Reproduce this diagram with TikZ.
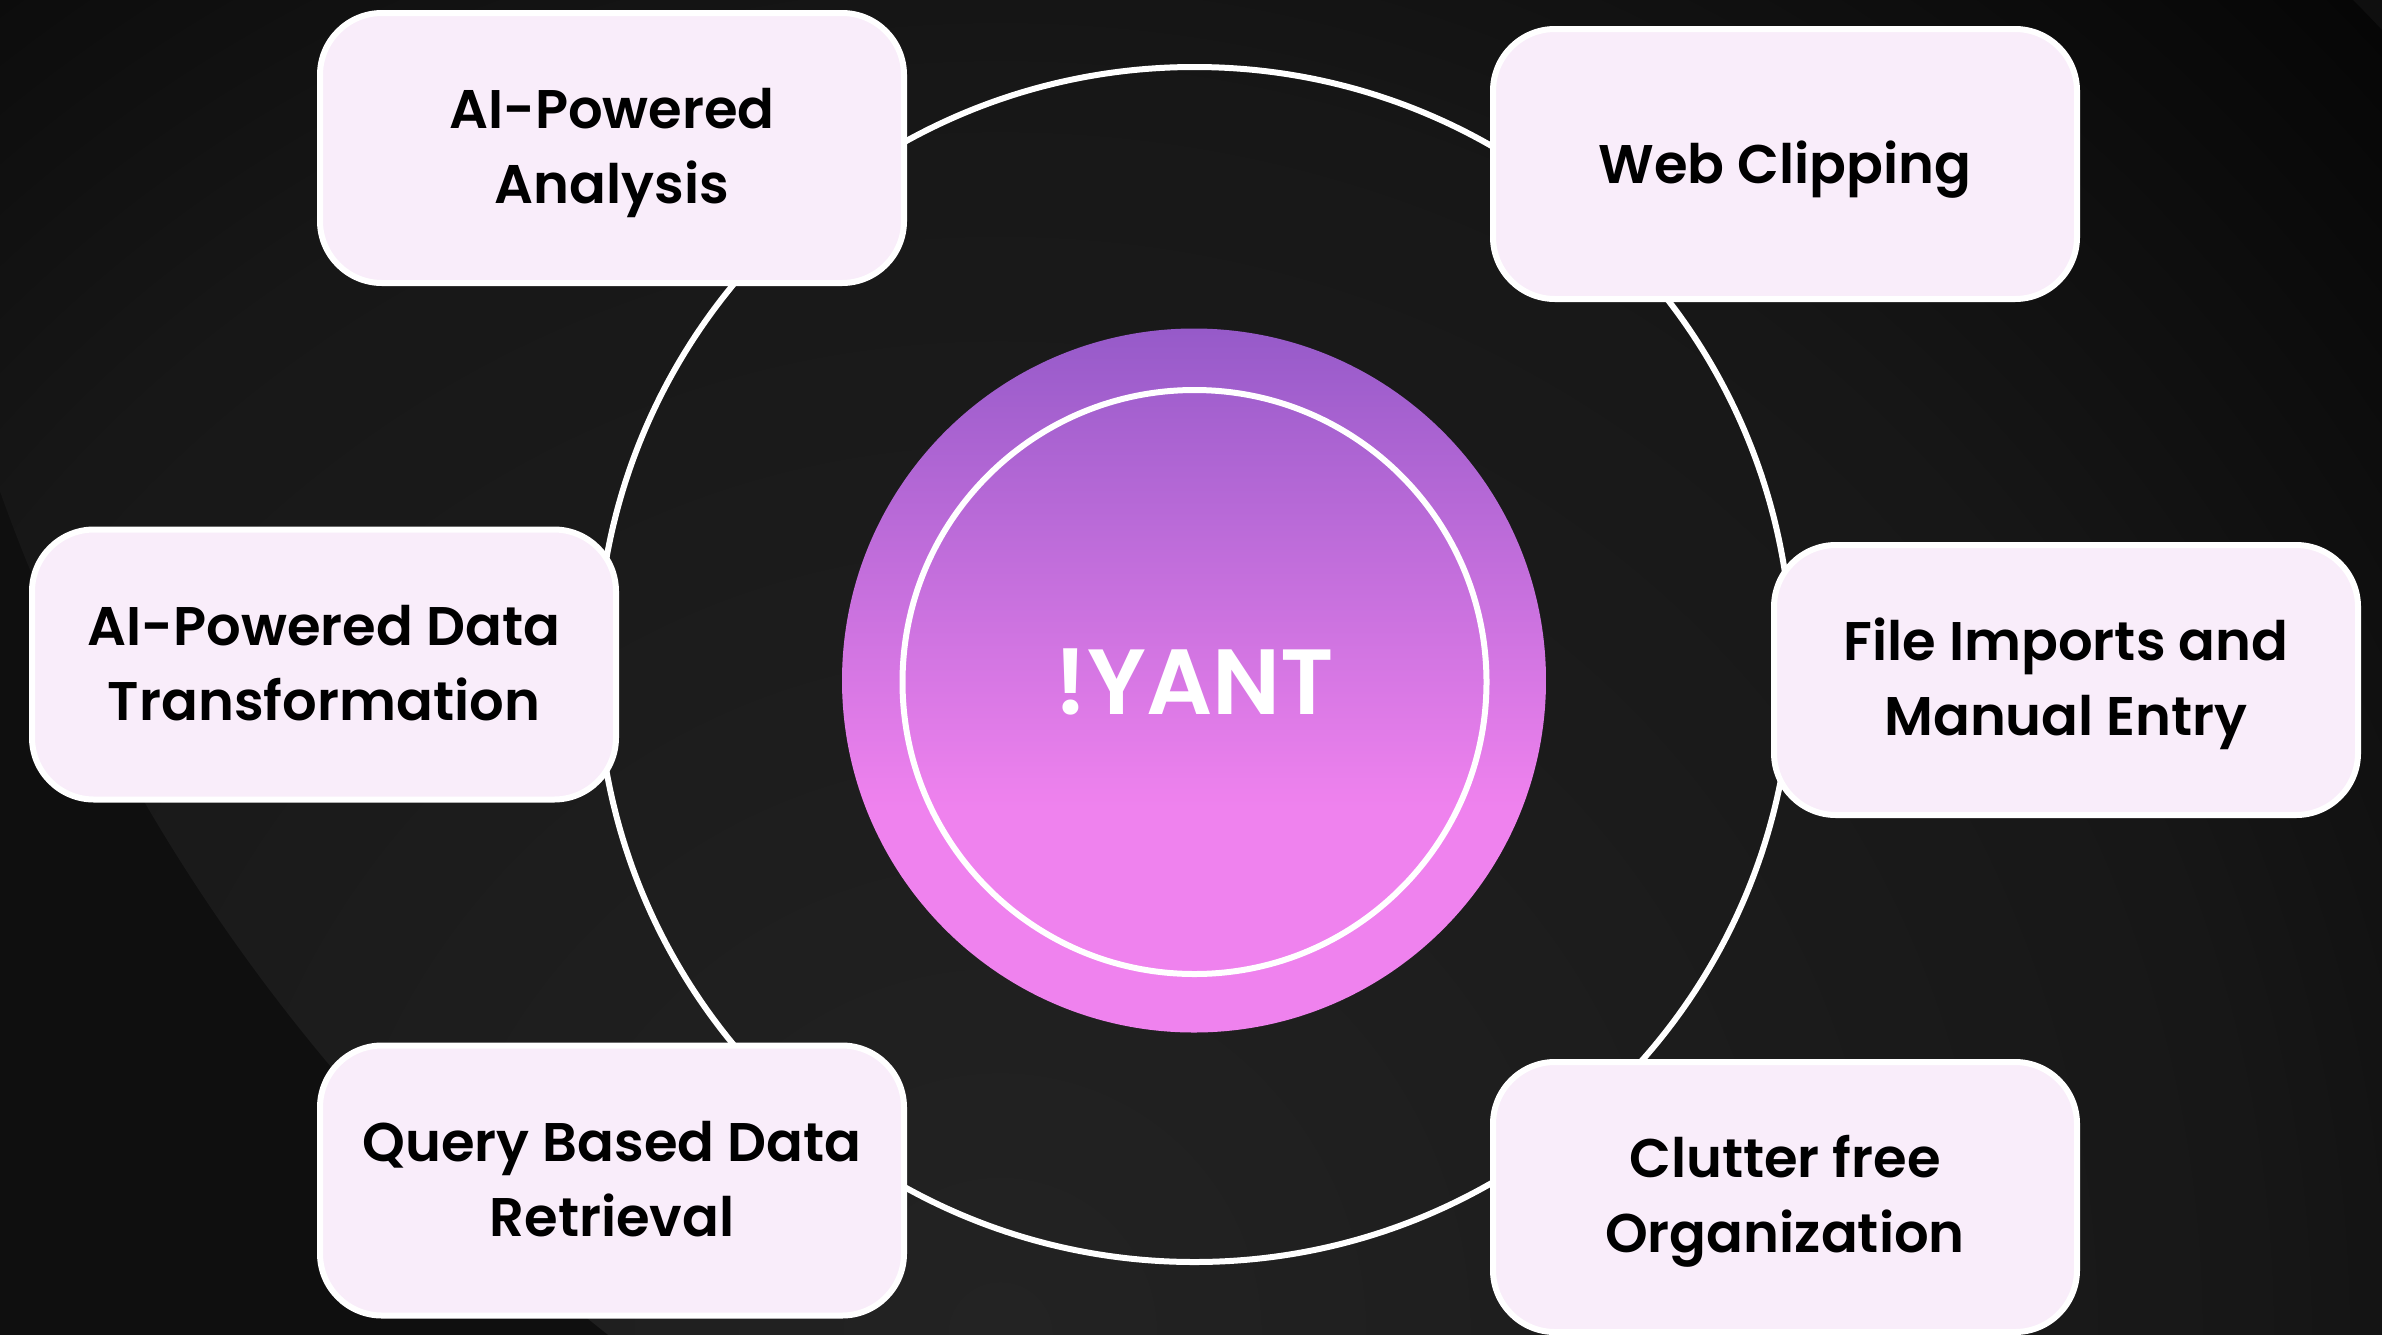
\documentclass[tikz,border=0pt]{standalone}
\usepackage{fontspec}
\setmainfont{Poppins SemiBold}
\definecolor{bgA}{HTML}{232323}
\definecolor{bgB}{HTML}{171717}
\definecolor{bgC}{HTML}{060606}
\definecolor{bgbase}{HTML}{0F0F0F}
\definecolor{boxfill}{HTML}{F9EDFA}
\definecolor{discTop}{HTML}{965AC9}
\definecolor{discBot}{HTML}{EF82EE}
\pgfdeclareradialshading{bgglow}{\pgfpointorigin}{color(0bp)=(bgA);color(16.5bp)=(bgB);color(25bp)=(bgC);color(50bp)=(bgC)}
\pgfdeclareverticalshading{discgrad}{100bp}{color(0bp)=(discBot);color(41bp)=(discBot);color(75bp)=(discTop);color(100bp)=(discTop)}
\tikzset{
  featurebox/.style={draw=white,line width=3pt,fill=boxfill,rounded corners=31pt,
    minimum width=292pt,minimum height=135pt,align=center,inner sep=0pt,
    text=black,font=\fontsize{27.2pt}{37.5pt}\selectfont,
    text height=#1,text depth=0pt},
  featurebox/.default=19pt,
}
\begin{document}
\begin{tikzpicture}[x=0.5pt,y=-0.5pt]
\useasboundingbox (0,0) rectangle (2382,1334);
\fill[bgbase] (-10,-10) rectangle (2392,1344);
\begin{scope}
  \clip (-10,-10) rectangle (2392,1344);
  \clip (1766,-140) circle[radius=1875];
  \shade[shading=bgglow] (1000,1334) circle[radius=1900];
\end{scope}
\node[circle,draw=white,line width=3pt,minimum size=597.5pt,inner sep=0pt] (ring) at (1194.5,664.5) {};
\shade[shading=discgrad] (1194,680.5) circle[radius=352];
\node[circle,draw=white,line width=3pt,minimum size=292pt,inner sep=0pt,text=white,
  font=\fontsize{46.3pt}{50pt}\selectfont] (core) at (1194.5,682) {!YANT};
\node[featurebox=55.5pt] (analysis) at (612,148) {AI-Powered\\Analysis};
\node[featurebox] (web) at (1785,164) {Web Clipping};
\node[featurebox=55.5pt] (files) at (2066,680) {File Imports and\\Manual Entry};
\node[featurebox=55.5pt] (transform) at (324,664.5) {AI-Powered Data\\Transformation};
\node[featurebox=55.5pt] (query) at (612,1180.5) {Query Based Data\\Retrieval};
\node[featurebox=55.5pt] (clutter) at (1785,1197) {Clutter free\\Organization};
\end{tikzpicture}
\end{document}
